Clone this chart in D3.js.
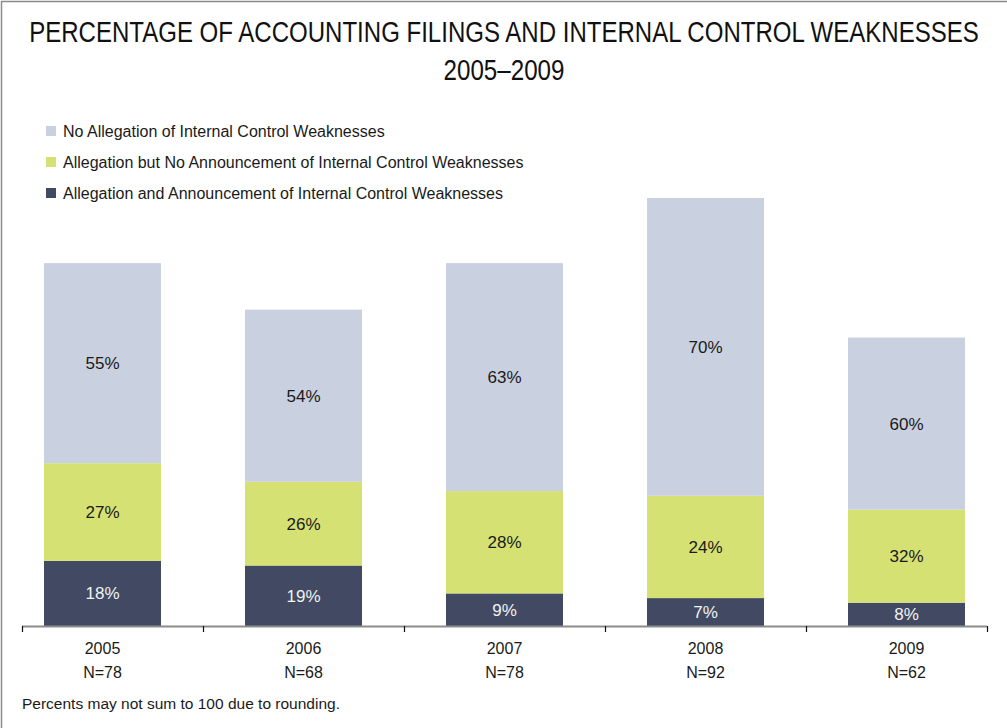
<!DOCTYPE html>
<html>
<head>
<meta charset="utf-8">
<script src="https://cdn.jsdelivr.net/npm/d3@7"></script>
<style>
  html, body { margin: 0; padding: 0; background: #fff; }
  svg { display: block; }
</style>
</head>
<body>
<div id="chart"></div>
<script>
// data
const years = ['2005', '2006', '2007', '2008', '2009'];
const totals = [78, 68, 78, 92, 62];
const seriesNames = [
  'No Allegation of Internal Control Weaknesses',
  'Allegation but No Announcement of Internal Control Weaknesses',
  'Allegation and Announcement of Internal Control Weaknesses'
];
// filings per bucket (bottom to top: announced, not announced, none)
const announced = [14, 13, 7, 6, 5];
const notAnnounced = [21, 18, 22, 22, 20];
const noAllegation = [43, 37, 49, 64, 37];

const C = { none: '#c9d0df', alleg: '#d6e174', ann: '#414a62', text: '#1a1a1a', axis: '#8c8c8c' };
const FONT = 'Arial, "Liberation Sans", Helvetica, sans-serif';

const W = 1007, H = 728, yBase = 626, yTop = 198;
const svg = d3.select('#chart').append('svg').attr('width', W).attr('height', H);

// frame
svg.append('path').attr('d', `M1.5,${H} L1.5,1.5 L${W},1.5`)
  .attr('fill', 'none').attr('stroke', '#8a8a8a').attr('stroke-width', 1.5);

// title, squeezed horizontally like the condensed face of the original
function squeezed(txt, cy, width) {
  const t = svg.append('text').attr('x', 0).attr('y', 0).attr('text-anchor', 'middle')
    .attr('font-family', FONT).attr('font-size', 29).attr('fill', '#111').text(txt);
  const k = width / t.node().getComputedTextLength();
  t.attr('transform', `translate(504,${cy}) scale(${k},1)`);
}
squeezed('PERCENTAGE OF ACCOUNTING FILINGS AND INTERNAL CONTROL WEAKNESSES', 42, 950);
squeezed('2005–2009', 80, 121);

// legend
const legColors = [C.none, C.alleg, C.ann];
seriesNames.forEach((name, i) => {
  const ly = 131 + i * 31;
  svg.append('rect').attr('x', 46).attr('y', ly - 5).attr('width', 10).attr('height', 10).attr('fill', legColors[i]);
  svg.append('text').attr('x', 63).attr('y', ly + 5.5).attr('font-family', FONT).attr('font-size', 16)
    .attr('fill', C.text).text(name);
});

const x = d3.scaleBand().domain(years).range([2, 1007]).paddingInner(0.418).paddingOuter(0.209);
const y = d3.scaleLinear().domain([0, d3.max(totals)]).range([yBase, yTop]);

const rows = years.map((yr, i) => ({ year: yr, ann: announced[i], alleg: notAnnounced[i], none: noAllegation[i], total: totals[i] }));
const keys = ['ann', 'alleg', 'none'];
const stack = d3.stack().keys(keys)(rows);

stack.forEach(layer => {
  const key = layer.key;
  const g = svg.append('g');
  g.selectAll('rect').data(layer).join('rect')
    .attr('x', d => x(d.data.year)).attr('width', x.bandwidth())
    .attr('y', d => y(d[1])).attr('height', d => y(d[0]) - y(d[1]))
    .attr('fill', C[key]);
  g.selectAll('text').data(layer).join('text')
    .attr('x', d => x(d.data.year) + x.bandwidth() / 2)
    .attr('y', d => (y(d[0]) + y(d[1])) / 2 + 6)
    .attr('text-anchor', 'middle').attr('font-family', FONT).attr('font-size', 17)
    .attr('fill', key === 'ann' ? '#f2f2f2' : C.text)
    .text(d => Math.round((d[1] - d[0]) / d.data.total * 100) + '%');
});

// axis
const gap = x.step() - x.bandwidth();
const ax0 = x(years[0]) - 22, ax1 = x(years[years.length - 1]) + x.bandwidth() + 22;
svg.append('line').attr('x1', ax0).attr('x2', ax1).attr('y1', yBase + 0.5).attr('y2', yBase + 0.5)
  .attr('stroke', C.axis).attr('stroke-width', 2);
const tickXs = [ax0, ...years.slice(1).map(yr => x(yr) - gap / 2), ax1];
tickXs.forEach(tx => {
  svg.append('line').attr('x1', Math.round(tx) + 0.5).attr('x2', Math.round(tx) + 0.5)
    .attr('y1', yBase).attr('y2', yBase + 6).attr('stroke', '#111').attr('stroke-width', 1.2);
});
rows.forEach(d => {
  const cx = x(d.year) + x.bandwidth() / 2;
  svg.append('text').attr('x', cx).attr('y', 654).attr('text-anchor', 'middle')
    .attr('font-family', FONT).attr('font-size', 16).attr('fill', C.text).text(d.year);
  svg.append('text').attr('x', cx).attr('y', 678).attr('text-anchor', 'middle')
    .attr('font-family', FONT).attr('font-size', 16).attr('fill', C.text).text('N=' + d.total);
});

svg.append('text').attr('x', 22).attr('y', 709).attr('font-family', FONT).attr('font-size', 15.5)
  .attr('fill', C.text).text('Percents may not sum to 100 due to rounding.');
</script>
</body>
</html>
